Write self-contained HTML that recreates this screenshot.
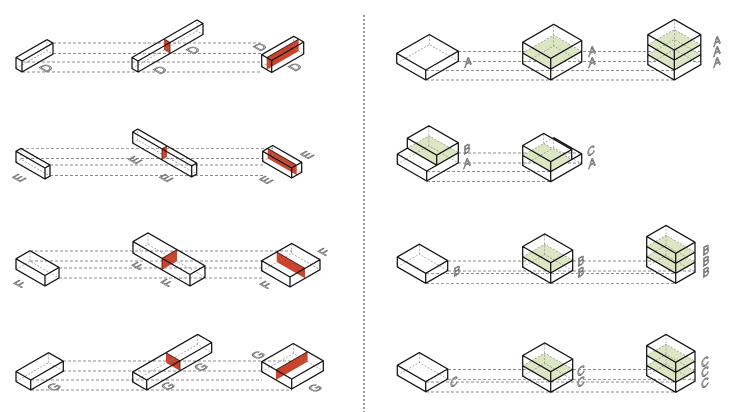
<!DOCTYPE html>
<html><head><meta charset="utf-8"><style>
html,body{margin:0;padding:0;background:#fff;width:730px;height:412px;overflow:hidden}
svg{display:block}
</style></head><body>
<svg width="730" height="412" viewBox="0 0 730 412" xmlns="http://www.w3.org/2000/svg">
<rect width="730" height="412" fill="#fff"/>

<!-- divider -->
<line x1="364" y1="15" x2="364" y2="412" stroke="#333" stroke-width="1" stroke-dasharray="2 2"/>

<!-- guide lines -->
<g stroke="#6a6a6a" stroke-width="0.65" stroke-dasharray="3 2" fill="none">
<path d="M53 43H262M53 53.5H262M22 62H262M22 72H262"/>
<path d="M21 148.4H273M21 158.5H263M50 165H263M50 175.5H263"/>
<path d="M30 251H292M30 261H262M59 268H262M59 278H262"/>
<path d="M63 361H293M63 371H262M31 380H262M31 390H292"/>
<path d="M458 51.5H701M458 61.5H701M426 70.5H674M426 80H674"/>
<path d="M458 153H582M458 163H582M427 171.5H551M427 181.5H551"/>
<path d="M448 261H695M448 271H695M426 273.5H676M426 283.3H676"/>
<path d="M448 369.5H695M448 379.3H695M426 382H676M426 392H676"/>
</g>

<!-- red fills -->
<g fill="#c9442c" stroke="none">
<polygon points="164,50 170,53.5 170,42.5 164,39"/>
<polygon points="266.7,69.6 298.7,51.1 298.7,39.1 266.7,57.6"/>
<polygon points="162,159.9 167,157 167,146 162,148.9"/>
<polygon points="296.7,175.1 267.7,158.4 267.7,148.4 296.7,165.1"/>
<polygon points="162,269.8 177,261.1 177,249.6 162,258.3"/>
<polygon points="305,278.3 276.7,262 276.7,252 305,268.3"/>
<polygon points="180,370.8 166,362.7 166,352.7 180,360.8"/>
<polygon points="276,379.9 307.6,361.6 307.6,351.6 276,369.9"/>
</g>

<!-- green fills -->
<g fill="#dbe6c3" stroke="none">
<polygon points="522.7,53 550.7,69.2 581.7,51.3 553.7,35.1"/>
<polygon points="647.8,54.7 674.3,70 700.8,54.7 674.3,39.4"/>
<polygon points="647.8,44.7 674.3,60 700.8,44.7 674.3,29.4"/>
<polygon points="407.3,148.2 436.7,165.2 458.3,152.7 428.9,135.8"/>
<polygon points="522.7,155.5 550.7,171.7 571.7,159.6 543.7,143.4"/>
<polygon points="522.7,256.8 550.7,273 572.7,260.3 544.7,244.2"/>
<polygon points="646.7,256.6 675.7,273.3 695,262.2 666,245.4"/>
<polygon points="646.7,246.6 675.7,263.3 695,252.2 666,235.4"/>
<polygon points="522.7,365.8 550.7,382 572.7,369.3 544.7,353.2"/>
<polygon points="646.7,365.6 675.7,382.3 695,371.2 666,354.4"/>
<polygon points="646.7,355.6 675.7,372.3 695,361.2 666,344.4"/>
</g>

<!-- hidden edges -->
<g stroke="#888" stroke-width="0.6" stroke-dasharray="2 1.5" fill="none">
<path d="M16 68.5L47 50.7L53 54.1M47 50.7V39.7"/>
<path d="M132 68.5L197 31L203 34.5M197 31V20"/>
<path d="M261.7 66.7L293.7 48.3L303.7 54M293.7 48.3V36.3"/>
<path d="M16 162.3L21 159.4L50 176.1M21 159.4V148.4"/>
<path d="M132.7 143L137.7 140.1L196.7 174.1M137.7 140.1V129.1"/>
<path d="M262.7 161.3L272.7 155.5L301.7 172.2M272.7 155.5V145.5"/>
<path d="M16 269.3L30 261.2L59 277.9M30 261.2V250.7"/>
<path d="M133 253.1L148 244.4L205 277.3M148 244.4V232.9"/>
<path d="M261.7 270.7L291.7 253.4L320 269.7M291.7 253.4V243.4"/>
<path d="M16 381.5L48.6 362.7L63.3 371.2M48.6 362.7V352.7"/>
<path d="M132.7 381.9L197.7 344.4L211.7 352.5M197.7 344.4V334.4"/>
<path d="M261.7 371.7L293.3 353.5L323.3 370.8M293.3 353.5V343.5"/>
<path d="M396.7 63.3L429.3 44.5L458.3 61.2M429.3 44.5V34.5"/>
<path d="M522.7 63.8L553.7 45.9L581.7 62.1M553.7 45.9V24.3M522.7 53L553.7 35.1L581.7 51.3"/>
<path d="M647.8 64.7L674.3 49.4L700.8 64.7M674.3 49.4V19.4M647.8 54.7L674.3 39.4L700.8 54.7M647.8 44.7L674.3 29.4L700.8 44.7"/>
<path d="M397.3 164L428.9 145.8L458.3 162.8M428.9 145.8V135.8M407.3 148.2L428.9 135.8L458.3 152.7M428.9 135.8V125.8"/>
<path d="M522.7 165.5L553.7 147.6L581.7 163.8M553.7 147.6V137.6M522.7 155.5L543.7 143.4L571.7 159.6M543.7 143.4V133.4M553.7 137.6L543.7 143.4"/>
<path d="M397.3 266.9L419.3 254.2L447.7 270.6M419.3 254.2V244.2"/>
<path d="M522.7 267.1L544.7 254.5L572.7 270.6M544.7 254.5V233.9M522.7 256.8L544.7 244.2L572.7 260.3"/>
<path d="M646.7 266.6L666 255.4L695 272.2M666 255.4V225.4M646.7 256.6L666 245.4L695 262.2M646.7 246.6L666 235.4L695 252.2"/>
<path d="M397.3 375.3L419.3 362.6L447.7 379M419.3 362.6V352.6"/>
<path d="M522.7 376.1L544.7 363.5L572.7 379.6M544.7 363.5V342.9M522.7 365.8L544.7 353.2L572.7 369.3"/>
<path d="M646.7 375.6L666 364.4L695 381.2M666 364.4V334.4M646.7 365.6L666 354.4L695 371.2M646.7 355.6L666 344.4L695 361.2"/>
</g>

<!-- slice edges -->
<g stroke="#3a1a12" stroke-width="0.8" fill="none">
<path d="M164 39L170 42.5V53.5"/>
<path d="M266.7 57.6L298.7 39.1"/>
<path d="M162 148.9V159.9M162 148.9L167 146"/>
<path d="M267.7 148.4L296.7 165.1"/>
<path d="M162 258.3V269.8M162 258.3L177 249.6"/>
<path d="M276.7 252L305 268.3"/>
<path d="M180 360.8V370.8M166 352.7L180 360.8"/>
<path d="M276 369.9L307.6 351.6"/>
</g>

<!-- solid edges -->
<g stroke="#111" stroke-width="1.25" stroke-linejoin="round" stroke-linecap="round" fill="none">
<path d="M16 57.5L22 61L53 43.1L47 39.7ZM16 68.5L22 72L53 54.1M16 68.5V57.5M22 72V61M53 54.1V43.1"/>
<path d="M132 57.5L138 61L203 23.5L197 20ZM132 68.5L138 72L203 34.5M132 68.5V57.5M138 72V61M203 34.5V23.5"/>
<path d="M261.7 54.7L271.7 60.5L303.7 42L293.7 36.3ZM261.7 66.7L271.7 72.5L303.7 54M261.7 66.7V54.7M271.7 72.5V60.5M303.7 54V42"/>
<path d="M16 151.3L45 168L50 165.1L21 148.4ZM16 162.3L45 179L50 176.1M16 162.3V151.3M45 179V168M50 176.1V165.1"/>
<path d="M132.7 132L191.7 166L196.7 163.1L137.7 129.1ZM132.7 143L191.7 177L196.7 174.1M132.7 143V132M191.7 177V166M196.7 174.1V163.1"/>
<path d="M262.7 151.3L291.7 168L301.7 162.2L272.7 145.5ZM262.7 161.3L291.7 178L301.7 172.2M262.7 161.3V151.3M291.7 178V168M301.7 172.2V162.2"/>
<path d="M16 258.8L45 275.5L59 267.4L30 250.7ZM16 269.3L45 286L59 277.9M16 269.3V258.8M45 286V275.5M59 277.9V267.4"/>
<path d="M133 241.6L190 274.5L205 265.8L148 232.9ZM133 253.1L190 286L205 277.3M133 253.1V241.6M190 286V274.5M205 277.3V265.8"/>
<path d="M261.7 260.7L290 277L320 259.7L291.7 243.4ZM261.7 270.7L290 287L320 269.7M261.7 270.7V260.7M290 287V277M320 269.7V259.7"/>
<path d="M16 371.5L30.7 380L63.3 361.2L48.6 352.7ZM16 381.5L30.7 390L63.3 371.2M16 381.5V371.5M30.7 390V380M63.3 371.2V361.2"/>
<path d="M132.7 371.9L146.7 380L211.7 342.5L197.7 334.4ZM132.7 381.9L146.7 390L211.7 352.5M132.7 381.9V371.9M146.7 390V380M211.7 352.5V342.5"/>
<path d="M261.7 361.7L291.7 379L323.3 360.8L293.3 343.5ZM261.7 371.7L291.7 389L323.3 370.8M261.7 371.7V361.7M291.7 389V379M323.3 370.8V360.8"/>

<path d="M396.7 53.3L425.7 70L458.3 51.2L429.3 34.5ZM396.7 63.3L425.7 80L458.3 61.2M396.7 63.3V53.3M425.7 80V70M458.3 61.2V51.2"/>
<path d="M522.7 42.2L550.7 58.4L581.7 40.5L553.7 24.3ZM522.7 63.8L550.7 80L581.7 62.1M522.7 63.8V42.2M550.7 80V58.4M581.7 62.1V40.5M522.7 53L550.7 69.2L581.7 51.3"/>
<path d="M647.8 34.7L674.3 50L700.8 34.7L674.3 19.4ZM647.8 64.7L674.3 80L700.8 64.7M647.8 64.7V34.7M674.3 80V50M700.8 64.7V34.7M647.8 54.7L674.3 70L700.8 54.7M647.8 44.7L674.3 60L700.8 44.7"/>

<path d="M397.3 164L426.7 181L458.3 162.8M397.3 164V154M426.7 181V171M458.3 162.8V152.8M397.3 154L426.7 171L458.3 152.8M397.3 154L407.3 148.2"/>
<path d="M407.3 138.2L436.7 155.2L458.3 142.7L428.9 125.8ZM407.3 148.2V138.2M436.7 165.2V155.2M458.3 152.7V142.7M407.3 148.2L436.7 165.2"/>
<path d="M522.7 165.5L550.7 181.7L581.7 163.8M522.7 165.5V145.5M550.7 181.7V161.7M581.7 163.8V153.8M522.7 155.5L550.7 171.7L581.7 153.8L553.7 137.6M522.7 145.5L550.7 161.7L571.7 149.6L543.7 133.4ZM571.7 159.6V149.6"/>

<path d="M397.3 256.9L425.7 273.3L447.7 260.6L419.3 244.2ZM397.3 266.9L425.7 283.3L447.7 270.6M397.3 266.9V256.9M425.7 283.3V273.3M447.7 270.6V260.6"/>
<path d="M522.7 246.5L550.7 262.7L572.7 250L544.7 233.9ZM522.7 267.1L550.7 283.3L572.7 270.6M522.7 267.1V246.5M550.7 283.3V262.7M572.7 270.6V250M522.7 256.8L550.7 273L572.7 260.3"/>
<path d="M646.7 236.6L675.7 253.3L695 242.2L666 225.4ZM646.7 266.6L675.7 283.3L695 272.2M646.7 266.6V236.6M675.7 283.3V253.3M695 272.2V242.2M646.7 256.6L675.7 273.3L695 262.2M646.7 246.6L675.7 263.3L695 252.2"/>

<path d="M397.3 365.3L425.7 381.7L447.7 369L419.3 352.6ZM397.3 375.3L425.7 391.7L447.7 379M397.3 375.3V365.3M425.7 391.7V381.7M447.7 379V369"/>
<path d="M522.7 355.5L550.7 371.7L572.7 359L544.7 342.9ZM522.7 376.1L550.7 392.3L572.7 379.6M522.7 376.1V355.5M550.7 392.3V371.7M572.7 379.6V359M522.7 365.8L550.7 382L572.7 369.3"/>
<path d="M646.7 345.6L675.7 362.3L695 351.2L666 334.4ZM646.7 375.6L675.7 392.3L695 381.2M646.7 375.6V345.6M675.7 392.3V362.3M695 381.2V351.2M646.7 365.6L675.7 382.3L695 371.2M646.7 355.6L675.7 372.3L695 361.2"/>
</g>

<!-- ground-plane labels (left) -->
<g font-family="Liberation Sans, sans-serif" font-size="13" fill="#fff" stroke="#6a6a6a" stroke-width="0.8" text-anchor="middle">
<text transform="matrix(0.866 -0.5 0.866 0.5 46 68)" y="4.5">D</text>
<text transform="matrix(0.866 -0.5 0.866 0.5 160 70)" y="4.5">D</text>
<text transform="matrix(0.866 -0.5 0.866 0.5 193 50)" y="4.5">D</text>
<text transform="matrix(0.866 -0.5 0.866 0.5 260 47)" y="4.5">D</text>
<text transform="matrix(0.866 -0.5 0.866 0.5 295 67)" y="4.5">D</text>
<text transform="matrix(0.866 -0.5 0.866 0.5 19 178)" y="4.5">E</text>
<text transform="matrix(0.866 -0.5 0.866 0.5 135 160)" y="4.5">E</text>
<text transform="matrix(0.866 -0.5 0.866 0.5 166 178)" y="4.5">E</text>
<text transform="matrix(0.866 -0.5 0.866 0.5 266 180)" y="4.5">E</text>
<text transform="matrix(0.866 -0.5 0.866 0.5 307 155)" y="4.5">E</text>
<text transform="matrix(0.866 -0.5 0.866 0.5 20 284)" y="4.5">F</text>
<text transform="matrix(0.866 -0.5 0.866 0.5 138 266)" y="4.5">F</text>
<text transform="matrix(0.866 -0.5 0.866 0.5 167 283)" y="4.5">F</text>
<text transform="matrix(0.866 -0.5 0.866 0.5 266 285)" y="4.5">F</text>
<text transform="matrix(0.866 -0.5 0.866 0.5 324 252)" y="4.5">F</text>
<text transform="matrix(0.866 -0.5 0.866 0.5 54 387)" y="4.5">G</text>
<text transform="matrix(0.866 -0.5 0.866 0.5 168 386)" y="4.5">G</text>
<text transform="matrix(0.866 -0.5 0.866 0.5 201 367)" y="4.5">G</text>
<text transform="matrix(0.866 -0.5 0.866 0.5 258 355)" y="4.5">G</text>
<text transform="matrix(0.866 -0.5 0.866 0.5 315 388)" y="4.5">G</text>
</g>

<!-- face-plane labels (right) -->
<g font-family="Liberation Sans, sans-serif" font-size="12" fill="#fff" stroke="#6a6a6a" stroke-width="0.8" text-anchor="middle">
<text transform="matrix(0.866 -0.5 0 1 468 62)" y="4">A</text>
<text transform="matrix(0.866 -0.5 0 1 592 51)" y="4">A</text>
<text transform="matrix(0.866 -0.5 0 1 592 62)" y="4">A</text>
<text transform="matrix(0.866 -0.5 0 1 717 41)" y="4">A</text>
<text transform="matrix(0.866 -0.5 0 1 717 51)" y="4">A</text>
<text transform="matrix(0.866 -0.5 0 1 717 62)" y="4">A</text>
<text transform="matrix(0.866 -0.5 0 1 467 149)" y="4">B</text>
<text transform="matrix(0.866 -0.5 0 1 467 163)" y="4">A</text>
<text transform="matrix(0.866 -0.5 0 1 591 151)" y="4">C</text>
<text transform="matrix(0.866 -0.5 0 1 592 163)" y="4">A</text>
<text transform="matrix(0.866 -0.5 0 1 457 271)" y="4">B</text>
<text transform="matrix(0.866 -0.5 0 1 581 261)" y="4">B</text>
<text transform="matrix(0.866 -0.5 0 1 581 272)" y="4">B</text>
<text transform="matrix(0.866 -0.5 0 1 706 250)" y="4">B</text>
<text transform="matrix(0.866 -0.5 0 1 706 261)" y="4">B</text>
<text transform="matrix(0.866 -0.5 0 1 706 272)" y="4">B</text>
<text transform="matrix(0.866 -0.5 0 1 454 382)" y="4">C</text>
<text transform="matrix(0.866 -0.5 0 1 581 371)" y="4">C</text>
<text transform="matrix(0.866 -0.5 0 1 581 382)" y="4">C</text>
<text transform="matrix(0.866 -0.5 0 1 705 362)" y="4">C</text>
<text transform="matrix(0.866 -0.5 0 1 705 372)" y="4">C</text>
<text transform="matrix(0.866 -0.5 0 1 705 383)" y="4">C</text>
</g>
</svg>
</body></html>
